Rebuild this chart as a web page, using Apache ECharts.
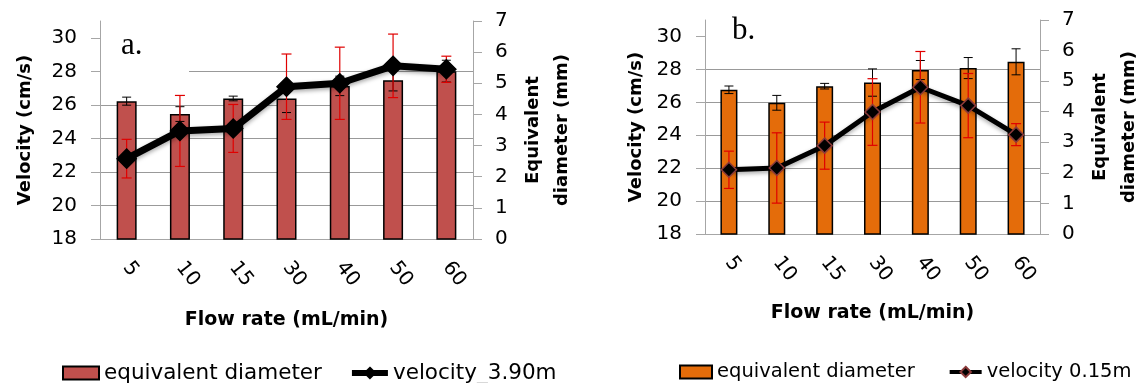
<!DOCTYPE html>
<html>
<head>
<meta charset="utf-8">
<script src="https://cdn.jsdelivr.net/npm/echarts@6/dist/echarts.min.js"></script>
<style>
  body { margin: 0; background: #fff; }
  #panel-a { position: absolute; left: 0; top: 0; width: 570px; height: 383px; }
  #panel-b { position: absolute; left: 570px; top: 0; width: 567px; height: 383px; }
</style>
</head>
<body>
<div id="panel-a"></div>
<div id="panel-b"></div>
<script>
// flow rates (mL/min)
const categories = ['5', '10', '15', '30', '40', '50', '60'];
const velocityTicks = [18, 20, 22, 24, 26, 28, 30];

// panel a: bars read on the left axis, line on the right axis
const barsA = [26.22, 25.45, 26.38, 26.38, 27.13, 27.47, 28.01];
const barsAErr = [0.24, 0.44, 0.14, 0.84, 0.58, 0.64, 0.65];
const lineA = [2.58, 3.47, 3.55, 4.89, 5.0, 5.56, 5.45];
const lineAErr = [0.62, 1.14, 0.77, 1.05, 1.16, 1.02, 0.42];

// panel b
const barsB = [26.76, 25.97, 26.98, 27.2, 27.96, 28.08, 28.46];
const barsBErr = [0.23, 0.45, 0.17, 0.83, 0.58, 0.64, 0.79];
const lineB = [2.10, 2.16, 2.89, 3.99, 4.80, 4.20, 3.25];
const lineBErr = [0.61, 1.15, 0.77, 1.09, 1.17, 1.05, 0.36];

const FONT = 'DejaVu Sans';
const AXIS_GREY = '#a6a6a6';

const errData = (vals, errs) => vals.map((v, i) => [i, v - errs[i], v + errs[i]]);

const errRender = (capHalf, color, width) => (params, api) => {
    const x = api.value(0);
    const lo = api.coord([x, api.value(1)]);
    const hi = api.coord([x, api.value(2)]);
    const style = { stroke: color, lineWidth: width };
    return {
        type: 'group',
        children: [
            { type: 'line', shape: { x1: lo[0], y1: lo[1], x2: hi[0], y2: hi[1] }, style: style },
            { type: 'line', shape: { x1: lo[0] - capHalf, y1: lo[1], x2: lo[0] + capHalf, y2: lo[1] }, style: style },
            { type: 'line', shape: { x1: hi[0] - capHalf, y1: hi[1], x2: hi[0] + capHalf, y2: hi[1] }, style: style }
        ]
    };
};

const make_panel = (dom_id, cfg) => {
    const chart = echarts.init(document.getElementById(dom_id));
    const option = {
        animation: false,
        backgroundColor: '#fff',
        grid: {
            left: cfg.grid[0], right: cfg.grid[1], top: cfg.grid[2], bottom: cfg.grid[3],
            containLabel: false, outerBoundsMode: 'none'
        },
        legend: {
            data: [
                { name: cfg.barName, icon: 'rect' },
                { name: cfg.lineName, lineStyle: { width: cfg.lineWidth - 1, color: '#000' } }
            ],
            left: cfg.legendLeft,
            top: cfg.legendTop,
            width: 540,
            itemWidth: cfg.legendItem,
            itemHeight: 13,
            itemGap: cfg.legendGap,
            selectedMode: false,
            textStyle: { fontFamily: FONT, fontSize: cfg.legendFont, color: '#000' }
        },
        graphic: [
            { type: 'rect', z: 10, shape: cfg.box, style: { fill: '#fff' } },
            {
                type: 'text', z: 11, x: cfg.tag[0], y: cfg.tag[1],
                style: { text: cfg.tagText, font: '31px "Liberation Serif"', fill: '#000', textVerticalAlign: 'middle' }
            }
        ],
        xAxis: {
            type: 'category',
            data: categories,
            axisLine: { lineStyle: { color: AXIS_GREY } },
            axisTick: { show: false },
            axisLabel: { rotate: -52, margin: 25, fontFamily: FONT, fontSize: 20, color: '#000' },
            name: 'Flow rate (mL/min)',
            nameLocation: 'middle',
            nameGap: cfg.xNameGap,
            nameTextStyle: { fontFamily: FONT, fontWeight: 'bold', fontSize: 19, color: '#000' }
        },
        yAxis: [
            {
                type: 'value', position: 'left', min: 18, max: 31, interval: 2,
                axisLine: { show: true, lineStyle: { color: AXIS_GREY } },
                axisTick: { show: true, length: 9, customValues: velocityTicks, lineStyle: { color: AXIS_GREY } },
                axisLabel: { margin: 23, customValues: velocityTicks, fontFamily: FONT, fontSize: 20, color: '#000' },
                splitLine: { show: true, showMaxLine: false, lineStyle: { color: '#999' } },
                name: 'Velocity (cm/s)',
                nameLocation: 'middle',
                nameRotate: 90,
                nameGap: cfg.leftNameGap,
                nameTextStyle: { fontFamily: FONT, fontWeight: 'bold', fontSize: 18, color: '#000' }
            },
            {
                type: 'value', position: 'right', min: 0, max: 7, interval: 1,
                axisLine: { show: true, lineStyle: { color: AXIS_GREY } },
                axisTick: { show: true, length: 9, lineStyle: { color: AXIS_GREY } },
                axisLabel: { margin: 22, fontFamily: FONT, fontSize: 20, color: '#000' },
                splitLine: { show: false },
                name: 'Equivalent\ndiameter (mm)',
                nameLocation: 'middle',
                nameRotate: 90,
                nameGap: cfg.rightNameGap,
                nameTextStyle: { fontFamily: FONT, fontWeight: 'bold', fontSize: 18, lineHeight: 29, color: '#000' }
            }
        ],
        series: [
            {
                name: cfg.barName,
                type: 'bar',
                yAxisIndex: 0,
                data: cfg.bars,
                barWidth: cfg.barWidth,
                z: 2,
                itemStyle: { color: cfg.barColor, borderColor: '#000', borderWidth: 1.5 }
            },
            {
                name: 'bar error',
                type: 'custom',
                yAxisIndex: 0,
                z: 3,
                clip: false,
                encode: { x: 0, y: [1, 2] },
                data: errData(cfg.bars, cfg.barsErr),
                renderItem: errRender(4.5, '#000', 1)
            },
            {
                name: 'line error',
                type: 'custom',
                yAxisIndex: 1,
                z: 4,
                clip: false,
                encode: { x: 0, y: [1, 2] },
                data: errData(cfg.line, cfg.lineErr),
                renderItem: errRender(5, '#e00000', 1.2)
            },
            {
                name: cfg.lineName,
                type: 'line',
                yAxisIndex: 1,
                data: cfg.line,
                z: 5,
                symbol: 'diamond',
                symbolSize: cfg.symbolSize,
                lineStyle: { color: '#000', width: cfg.lineWidth, shadowBlur: 4, shadowColor: 'rgba(0,0,0,0.35)', shadowOffsetY: 2 },
                itemStyle: { color: '#000', borderColor: cfg.markerBorder, borderWidth: 1.5 }
            }
        ]
    };
    chart.setOption(option);
};

make_panel('panel-a', {
    grid: [100, 97, 21, 144],
    barName: 'equivalent diameter',
    lineName: 'velocity_3.90m',
    bars: barsA, barsErr: barsAErr, line: lineA, lineErr: lineAErr,
    barColor: '#c0504d', barWidth: 20,
    symbolSize: 19, lineWidth: 7, markerBorder: '#000',
    box: { x: 101, y: 21, width: 88, height: 55 },
    tag: [121, 46], tagText: 'a.',
    legendLeft: 57, legendTop: 357, legendFont: 21.5, legendItem: 36, legendGap: 27,
    xNameGap: 72, leftNameGap: 66, rightNameGap: 40
});

make_panel('panel-b', {
    grid: [135, 97, 20, 149],
    barName: 'equivalent diameter',
    lineName: 'velocity 0.15m',
    bars: barsB, barsErr: barsBErr, line: lineB, lineErr: lineBErr,
    barColor: '#e46c0a', barWidth: 17,
    symbolSize: 15, lineWidth: 5, markerBorder: '#8b3a3a',
    box: { x: 140, y: 21, width: 89, height: 33 },
    tag: [162, 31], tagText: 'b.',
    legendLeft: 104, legendTop: 357, legendFont: 19.5, legendItem: 32, legendGap: 33,
    xNameGap: 70, leftNameGap: 56, rightNameGap: 44
});
</script>
</body>
</html>
